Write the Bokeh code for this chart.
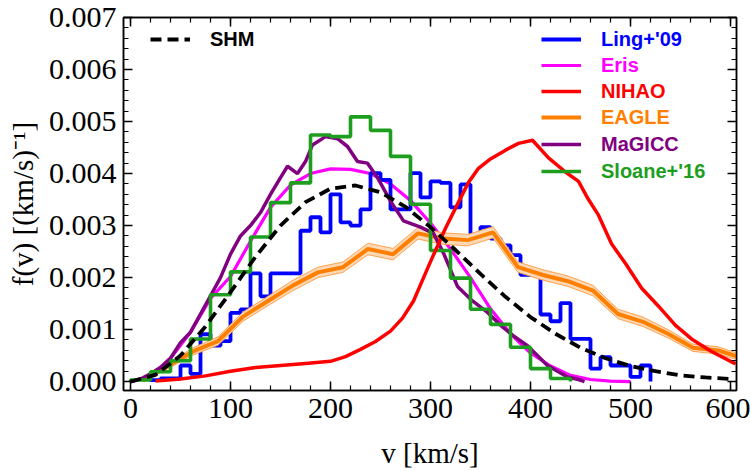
import numpy as np
from bokeh.plotting import figure
from bokeh.models import (Range1d, LinearAxis, SingleIntervalTicker, NumeralTickFormatter,
                          CustomJSTickFormatter, Legend, LegendItem)
from bokeh.embed import file_html
from bokeh.resources import INLINE

# All f(v) values below are in units of 1e-3 (km/s)^-1
UNIT = 1e-3

# Standard Halo Model
shm_v = [0, 25, 50, 75, 100, 125, 150, 175, 200, 225, 250, 275, 300, 325, 350,
         375, 400, 425, 450, 475, 500, 525, 550, 575, 600]
shm_f = [0.0, 0.13, 0.50, 1.06, 1.72, 2.40, 3.00, 3.45, 3.71, 3.77, 3.64, 3.36, 2.97,
         2.53, 2.07, 1.63, 1.24, 0.92, 0.65, 0.45, 0.30, 0.20, 0.12, 0.08, 0.05]

# Ling+'09 histogram (10 km/s bins)
ling_edges = list(range(20, 530, 10))
ling_f = [0.03, 0.06, 0.06, 0.31, 0.15, 0.91, 0.69, 0.78, 1.32, 1.39,
          2.08, 1.64, 2.08, 2.08, 2.08, 2.90, 3.16, 2.87, 3.60, 3.06,
          3.00, 3.31, 4.01, 3.88, 3.31, 3.31, 4.01, 3.54, 3.85, 3.82,
          3.35, 3.79, 2.81, 2.97, 2.75, 2.62, 2.43, 2.05, 2.05, 1.29,
          1.16, 1.51, 0.82, 0.82, 0.25, 0.47, 0.31, 0.31, 0.09, 0.31]

# Eris
eris_v = [0, 20, 40, 60, 80, 100, 120, 140, 160, 180, 200, 220, 240, 260, 280,
          300, 320, 340, 360, 380, 400, 420, 440, 460, 480, 500]
eris_f = [0.0, 0.10, 0.45, 0.95, 1.60, 2.02, 2.70, 3.35, 3.78, 4.00, 4.09, 4.08, 4.00,
          3.80, 3.48, 3.05, 2.55, 2.00, 1.40, 0.92, 0.55, 0.30, 0.12, 0.04, 0.01, 0.0]

# NIHAO
nihao_v = [25, 50, 75, 100, 125, 150, 175, 200, 215, 230, 245, 260, 272, 283, 292,
           301, 315, 328, 338, 348, 360, 375, 388, 402, 418, 435, 448, 458, 468,
           481, 495, 511, 528, 545, 561, 581, 605]
nihao_f = [0.01, 0.05, 0.11, 0.20, 0.27, 0.31, 0.35, 0.39, 0.48, 0.62, 0.77, 0.97, 1.22,
           1.55, 1.95, 2.35, 2.95, 3.45, 3.83, 4.10, 4.28, 4.45, 4.58, 4.64, 4.30, 4.03,
           3.85, 3.50, 3.20, 2.65, 2.27, 1.80, 1.45, 1.08, 0.82, 0.58, 0.34]

# EAGLE, median and spread
eagle_v = [12.5, 37.5, 62.5, 87.5, 112.5, 137.5, 162.5, 187.5, 212.5, 237.5, 262.5,
           287.5, 312.5, 337.5, 362.5, 387.5, 412.5, 437.5, 462.5, 487.5, 512.5,
           537.5, 562.5, 587.5, 612.5]
eagle_f = [0.02, 0.30, 0.58, 0.78, 1.25, 1.55, 1.85, 2.10, 2.20, 2.55, 2.45, 2.85, 2.75,
           2.72, 2.87, 2.20, 2.05, 1.93, 1.75, 1.30, 1.15, 0.92, 0.65, 0.60, 0.45]
eagle_err = [0.02, 0.05, 0.07, 0.08, 0.09, 0.09, 0.10, 0.10, 0.10, 0.11, 0.11, 0.11, 0.11,
             0.11, 0.11, 0.10, 0.10, 0.10, 0.10, 0.09, 0.09, 0.08, 0.07, 0.07, 0.06]

# MaGICC
magicc_v = [0, 10, 20, 30, 40, 50, 60, 70, 80, 90, 100, 110, 120, 130, 140, 150, 157,
            167, 175, 182, 195, 207, 217, 227, 237, 247, 260, 273, 290, 303, 313, 327,
            342, 357, 372, 383, 397, 417, 437, 448, 454]
magicc_f = [0.0, 0.05, 0.15, 0.27, 0.45, 0.75, 0.95, 1.30, 1.65, 2.00, 2.45, 2.80, 3.00,
            3.25, 3.60, 3.92, 4.14, 4.00, 4.23, 4.55, 4.71, 4.67, 4.52, 4.23, 4.20, 3.92,
            3.47, 3.09, 2.97, 2.85, 2.47, 1.83, 1.55, 1.33, 1.05, 0.88, 0.69, 0.31, 0.09,
            0.04, 0.0]

# Sloane+'16 histogram (20 km/s bins)
sloane_edges = list(range(0, 460, 20))
sloane_f = [0.03, 0.19, 0.40, 0.82, 1.67, 2.11, 2.78, 3.44, 3.82, 4.74, 4.71,
            5.09, 4.83, 4.33, 3.41, 2.52, 1.99, 1.39, 1.10, 0.66, 0.25, 0.06]

BLUE = "#0000FF"
MAGENTA = "#FF00FF"
RED = "#FF0000"
ORANGE = "#FF8000"
PURPLE = "#800080"
GREEN = "#1E9E1E"


def scaled(vals):
    return np.asarray(vals, dtype=float) * UNIT


def hist_outline(edges, vals):
    # outline of a histogram: rises from zero at the first edge, falls to zero at the last
    x = [edges[0]] + list(edges)
    y = [0.0] + list(vals) + [0.0]
    return x, scaled(y)


p = figure(width=750, height=471, output_backend="svg", toolbar_location=None,
           x_range=Range1d(-7, 606), y_range=Range1d(-0.000171, 0.007),
           min_border_left=123, min_border_right=14, min_border_top=17,
           min_border_bottom=79)
p.grid.visible = False
p.outline_line_color = "black"
p.outline_line_width = 1.5
p.background_fill_color = "white"
p.border_fill_color = "white"

xticker = SingleIntervalTicker(interval=100, num_minor_ticks=5)
yticker = SingleIntervalTicker(interval=0.001, num_minor_ticks=5)


def style_axis(ax, labels):
    ax.axis_line_color = "black"
    ax.axis_line_width = 1.5
    ax.major_tick_in = 9
    ax.major_tick_out = 0
    ax.minor_tick_in = 5
    ax.minor_tick_out = 0
    ax.major_tick_line_color = "black"
    ax.minor_tick_line_color = "black"
    ax.major_tick_line_width = 1.5
    ax.minor_tick_line_width = 1.2
    ax.major_label_text_font = "Liberation Serif"
    ax.major_label_text_color = "black"
    ax.major_label_text_font_size = "30px"
    if not labels:
        # frame-side ticks only, no numbers
        ax.formatter = CustomJSTickFormatter(code="return ''")
        ax.major_label_standoff = 0


p.xaxis.ticker = xticker
p.yaxis.ticker = yticker
p.yaxis.formatter = NumeralTickFormatter(format="0.000")
style_axis(p.xaxis[0], True)
style_axis(p.yaxis[0], True)
p.xaxis.major_label_standoff = 8
p.yaxis.major_label_standoff = 7
p.xaxis.axis_label = "v [km/s]"
p.yaxis.axis_label = "f(v) [(km/s)\u207b\u00b9]"
for ax in (p.xaxis[0], p.yaxis[0]):
    ax.axis_label_text_font = "Liberation Serif"
    ax.axis_label_text_font_style = "normal"
    ax.axis_label_text_font_size = "29px"
    ax.axis_label_text_color = "black"
p.xaxis.axis_label_standoff = 16
p.yaxis.axis_label_standoff = 7

right_ax = LinearAxis(ticker=yticker)
style_axis(right_ax, False)
p.add_layout(right_ax, "right")
top_ax = LinearAxis(ticker=xticker)
style_axis(top_ax, False)
p.add_layout(top_ax, "above")

# Eris
r_eris = p.line(eris_v, scaled(eris_f), line_color=MAGENTA, line_width=3.2)

# Ling+'09
lx, ly = hist_outline(ling_edges, ling_f)
r_ling = p.step(lx, ly, mode="after", line_color=BLUE, line_width=3.8)

# EAGLE band and median
ev = np.asarray(eagle_v)
ef = np.asarray(eagle_f)
ee = np.asarray(eagle_err)
p.varea(x=ev, y1=(ef - ee) * UNIT, y2=(ef + ee) * UNIT, fill_color="#FDD9B8")
p.line(ev, (ef - ee) * UNIT, line_color="#FF9A40", line_width=0.9)
p.line(ev, (ef + ee) * UNIT, line_color="#FF9A40", line_width=0.9)
r_eagle = p.line(ev, ef * UNIT, line_color=ORANGE, line_width=4)

# MaGICC
r_magicc = p.line(magicc_v, scaled(magicc_f), line_color=PURPLE, line_width=3.5)

# Sloane+'16
sx, sy = hist_outline(sloane_edges, sloane_f)
r_sloane = p.step(sx, sy, mode="after", line_color=GREEN, line_width=3.6)

# NIHAO
r_nihao = p.line(nihao_v, scaled(nihao_f), line_color=RED, line_width=3.5)

# SHM
r_shm = p.line(shm_v, scaled(shm_f), line_color="black", line_width=3.8, line_dash="11 6")


def add_key(label, renderer, color, x, y):
    lg = Legend(items=[LegendItem(label=label, renderers=[renderer])], location=(x, y),
                border_line_alpha=0, background_fill_alpha=0, padding=0, margin=0,
                spacing=0, glyph_width=40, glyph_height=24, label_height=24,
                label_standoff=20, label_text_font="Liberation Sans",
                label_text_font_style="bold", label_text_font_size="20px",
                label_text_color=color)
    p.add_layout(lg)


add_key("SHM", r_shm, "black", 27, 339)
add_key("Ling+'09", r_ling, BLUE, 418, 339)
add_key("Eris", r_eris, MAGENTA, 418, 313)
add_key("NIHAO", r_nihao, RED, 418, 287)
add_key("EAGLE", r_eagle, ORANGE, 418, 261)
add_key("MaGICC", r_magicc, PURPLE, 418, 234)
add_key("Sloane+'16", r_sloane, GREEN, 418, 207)

open("out.html", "w").write(file_html(p, INLINE))
